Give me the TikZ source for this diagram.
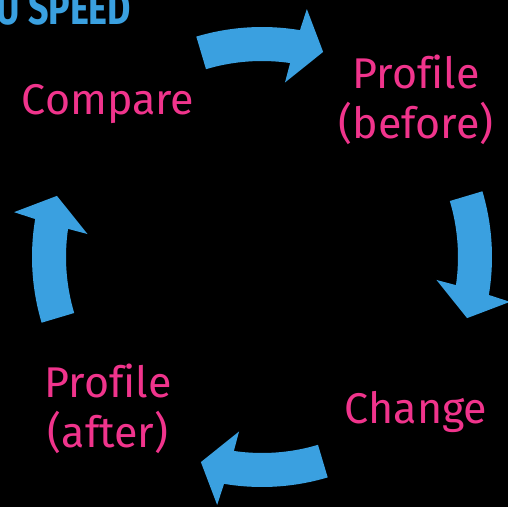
\documentclass[tikz,border=0pt]{standalone}
\usepackage{fontspec}
\setmainfont[Ligatures=NoCommon]{Fira Sans}
\usepackage{tikz}
\definecolor{cyclepink}{RGB}{240,52,140}
\definecolor{cycleblue}{RGB}{58,160,224}
\tikzset{
  steplabel/.style={text=cyclepink, font=\fontsize{43}{50}\selectfont, align=center, anchor=base, inner sep=0pt},
  cyclearrow/.style={fill=cycleblue, draw=none},
}

\begin{document}
\begin{tikzpicture}[x=1pt,y=1pt]
\fill[black] (0,0) rectangle (508,507);
\clip (0,0) rectangle (508,507);
\node[anchor=base west, text=cycleblue, font=\bfseries\fontsize{46}{46}\selectfont, inner sep=0pt, xscale=0.78] (title) at (-4,482) {U SPEED};
% four block arrows round the hub, clockwise
\coordinate (hub) at (262,250);
\foreach \r in {0,-90,-180,-270}{
  \begin{scope}[shift={(hub)}, rotate=\r]
  \fill[cyclearrow] (106.6:230) arc[start angle=106.6, end angle=80.5, radius=230]
    -- (79.75:252) -- (73.4:214) -- (82.5:176) -- (81.75:196)
    arc[start angle=81.75, end angle=106.6, radius=196] -- cycle;
  \end{scope}
}
% base of a two-line label is its last line
\node[steplabel] (compare) at (108,392) {Compare};
\node[steplabel] (before) at (416,369) {Profile\\(before)};
\node[steplabel] (change) at (416,84) {Change};
\node[steplabel] (after) at (108,60) {Profile\\(after)};
\end{tikzpicture}
\end{document}
